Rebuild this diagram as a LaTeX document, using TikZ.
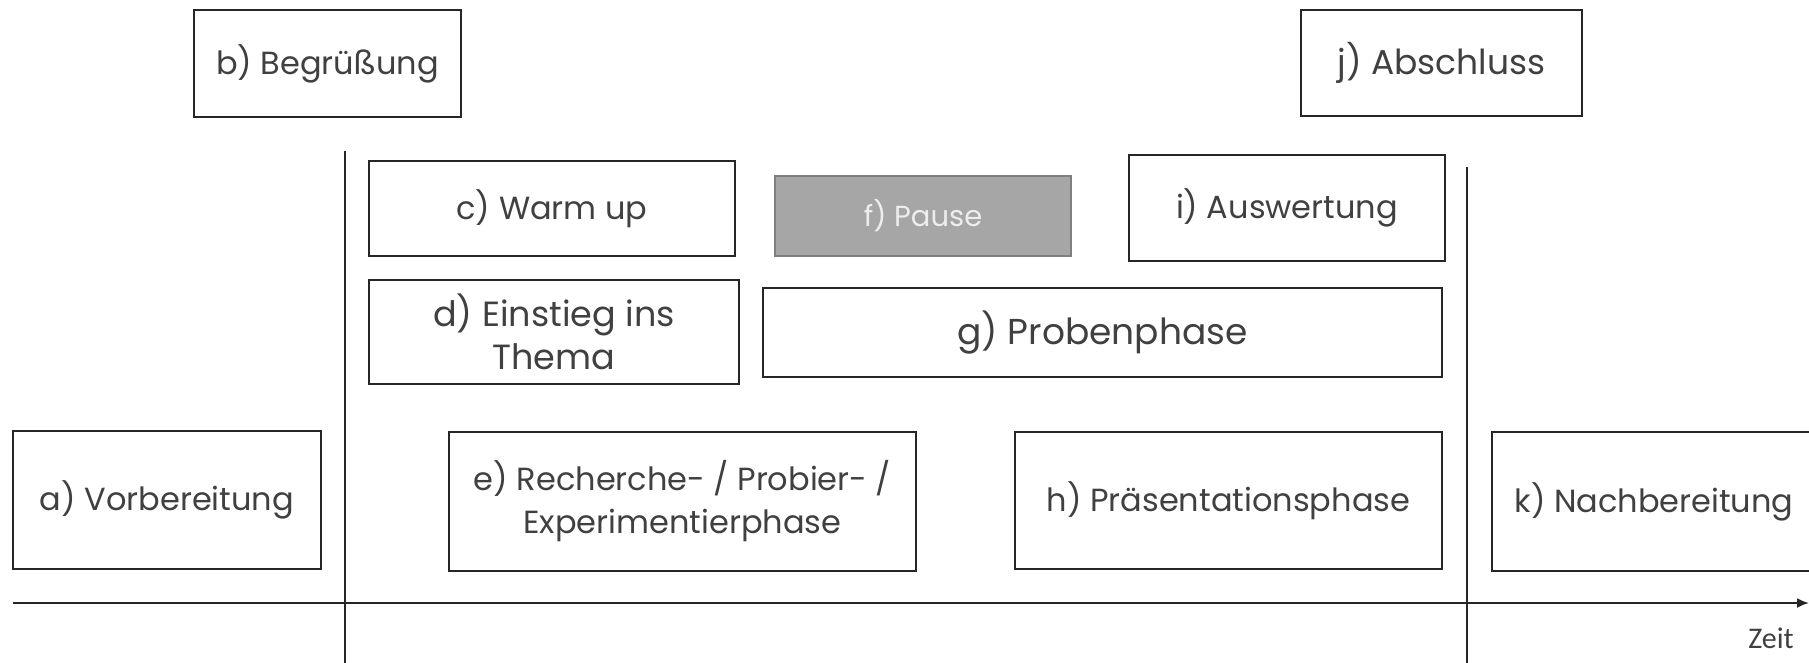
\documentclass[tikz,border=0pt]{standalone}
\usepackage{fontspec}
\setmainfont{Poppins}
\newfontfamily\zeitfont{Carlito}
\usetikzlibrary{arrows.meta}
\definecolor{textgray}{HTML}{404040}
\definecolor{linegray}{HTML}{262626}
\definecolor{pausefill}{HTML}{A6A6A6}
\definecolor{pauseline}{HTML}{7F7F7F}
\definecolor{pausetext}{HTML}{EDEDED}

\begin{document}
\begin{tikzpicture}[x=1pt,y=-1pt,
			phase node/.style={rectangle,draw=linegray,line width=2pt,text=textgray,
				font=\fontsize{32}{43}\selectfont,align=center,inner sep=2pt},
			big node/.style={phase node,font=\fontsize{35}{43}\selectfont},
			pause node/.style={phase node,fill=pausefill,draw=pauseline,text=pausetext,
				font=\fontsize{29}{32}\selectfont},
			time line/.style={linegray,line width=1.5pt}]
			
			\useasboundingbox (0,0) rectangle (1809,662);
			\clip (0,0) rectangle (1809,662);
			
			\node[phase node,minimum width=308,minimum height=138] (A) at (167,500) {a) Vorbereitung};
			\node[phase node,minimum width=267,minimum height=107] (B) at (327.5,63.5) {b) Begrüßung};
			\node[phase node,minimum width=366,minimum height=95] (C) at (552,208.5) {c) Warm up};
			\node[big node,minimum width=370,minimum height=104] (D) at (554,332) {d) Einstieg ins\\Thema};
			\node[phase node,minimum width=467,minimum height=139] (E) at (682.5,501.5) {e) Recherche- / Probier- /\\Experimentierphase};
			\node[pause node,minimum width=296,minimum height=80] (F) at (923,216) {f) Pause};
			\node[big node,font=\fontsize{36}{43}\selectfont,minimum width=679,minimum height=89] (G) at (1102.5,332.5) {g) Probenphase};
			\node[phase node,minimum width=427,minimum height=137] (H) at (1228.5,500.5) {h) Präsentationsphase};
			\node[phase node,minimum width=316,minimum height=106] (I) at (1287,208) {i) Auswertung};
			\node[big node,font=\fontsize{34.5}{43}\selectfont,minimum width=281,minimum height=106] (J) at (1441.5,63) {j) Abschluss};
			\node[phase node,minimum width=324,minimum height=139] (K) at (1654,501.5) {k) Nachbereitung};
			
			% time axis and the two borders
			\coordinate (start) at (13,603);
			\coordinate (end) at (1809,603);
			\coordinate (top1) at (345,151);
			\coordinate (bottom1) at (345,670);
			\coordinate (top2) at (1467,167);
			\coordinate (bottom2) at (1467,670);
			\draw[time line] (top1) -- (bottom1);
			\draw[time line] (top2) -- (bottom2);
			\draw[time line,line width=2pt,-{Latex[length=12pt,width=10pt]}] (start) -- (end);
			\node[text=textgray,font=\zeitfont\fontsize{30}{36}\selectfont] (zeit) at (1771,638) {Zeit};
		\end{tikzpicture}
\end{document}
